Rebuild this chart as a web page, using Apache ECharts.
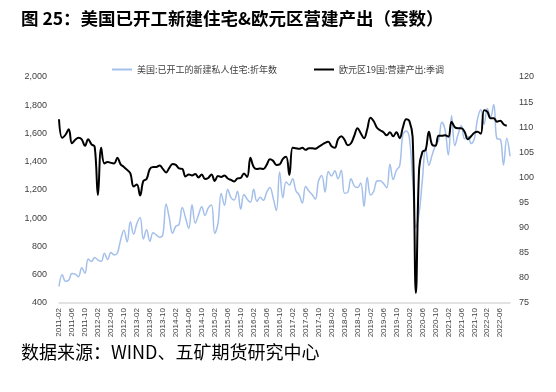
<!DOCTYPE html>
<html>
<head>
<meta charset="utf-8">
<script src="https://cdn.jsdelivr.net/npm/echarts@6/dist/echarts.min.js"></script>
<style>html,body{margin:0;padding:0;background:#fff;}#c{width:556px;height:392px;}</style>
</head>
<body>
<div id="c"></div>
<script>
// ---- data ----
const titleText = '图 25：美国已开工新建住宅&欧元区营建产出（套数）';
const sourceText = '数据来源：WIND、五矿期货研究中心';
const seriesNames = ['美国:已开工的新建私人住宅:折年数', '欧元区19国:营建产出:季调'];
// monthly categories 2011-02 .. 2022-09
const startYear = 2011, startMonth = 2, monthCount = 140;
const categories = [];
for (let k = 0; k < monthCount; k++) {
  const m = startMonth - 1 + k;
  const y = startYear + Math.floor(m / 12);
  const mm = (m % 12) + 1;
  categories.push(y + '-' + (mm < 10 ? '0' + mm : '' + mm));
}
// US housing starts, SAAR (thousand units), 2011-02 .. 2022-09
const usStarts = [
  517, 600, 554, 561, 608, 604, 586, 650, 610, 711, 694,
  723, 704, 695, 753, 708, 757, 740, 754, 847, 915, 833, 976,
  888, 962, 1005, 853, 919, 837, 897, 882, 866, 883, 1101, 1002,
  893, 943, 956, 1076, 1003, 928, 1096, 965, 1025, 1081, 1020, 1073,
  1094, 893, 964, 1176, 1092, 1205, 1146, 1130, 1192, 1065, 1168, 1135,
  1114, 1206, 1120, 1148, 1128, 1183, 1218, 1144, 1054, 1328, 1145, 1257,
  1236, 1280, 1195, 1166, 1108, 1225, 1193, 1168, 1135, 1265, 1303, 1185,
  1331, 1299, 1336, 1280, 1339, 1177, 1184, 1280, 1229, 1217, 1250, 1083,
  1289, 1164, 1191, 1264, 1266, 1246, 1215, 1383, 1274, 1340, 1371, 1593,
  1617, 1567, 1269, 934, 1038, 1273, 1497, 1376, 1448, 1514, 1552, 1680,
  1625, 1447, 1725, 1514, 1594, 1657, 1562, 1580, 1530, 1563, 1703, 1768,
  1666, 1777, 1716, 1805, 1562, 1559, 1377, 1566, 1439
];
// Euro area 19 construction output, SA index, 2011-02 .. 2022-08
const euConstruction = [
  111.6, 107.9, 108.5, 109.6, 106.8, 107.5, 107.9, 107.6, 106.3, 107.6, 106.6,
  106.1, 96.5, 105.9, 102.8, 103.1, 102.9, 102.8, 103.9, 102.6, 102.1, 101.5, 100.8,
  98.2, 98.6, 96.4, 99.3, 99.7, 101.7, 102.1, 102.1, 102.4, 101.7, 101.0, 101.9,
  102.7, 102.5, 101.8, 101.7, 100.2, 100.6, 100.4, 100.7, 100.0, 100.6, 99.7, 99.9,
  100.6, 99.3, 100.3, 100.1, 100.4, 99.8, 99.5, 99.2, 99.8, 99.9, 100.8, 100.1,
  103.9, 102.1, 101.7, 101.8, 101.7, 102.5, 103.6, 103.3, 102.5, 102.6, 103.7, 104.1,
  100.5, 105.9, 105.8, 105.7, 105.9, 105.5, 105.8, 105.8, 105.7, 106.1, 106.5, 106.9,
  107.1, 106.2, 105.9, 107.6, 108.2, 107.5, 106.4, 106.8, 108.3, 109.8, 108.8, 107.8,
  109.6, 111.9, 111.2, 109.9, 109.4, 109.0, 108.4, 109.0, 108.2, 109.0, 107.8, 110.0,
  111.6, 111.2, 108.0, 77.0, 101.8, 105.1, 105.5, 109.1, 106.5, 106.3, 108.3, 108.3,
  108.4, 108.1, 111.1, 110.0, 109.8, 109.8, 109.1, 107.6, 108.2, 108.9, 109.1, 108.7,
  113.4, 113.1, 111.8, 111.8, 111.1, 111.3, 110.6, 110.3
];
const leftAxis = { min: 400, max: 2000, interval: 200 };
const rightAxis = { min: 75, max: 120, interval: 5 };

// ---- chart ----
const chart = echarts.init(document.getElementById('c'), null, { renderer: 'canvas' });
const axisFont = 'Liberation Sans, Arial, sans-serif';
chart.setOption({
  animation: false,
  backgroundColor: '#fff',
  title: [
    { text: titleText, left: 16, top: 5,
      textStyle: { fontSize: 17.5, fontWeight: 'bold', color: '#000', fontFamily: 'Noto Sans CJK SC' } },
    { text: sourceText, left: 16, top: 338,
      textStyle: { fontSize: 18, fontWeight: 'normal', color: '#000', fontFamily: 'Noto Sans CJK SC' } }
  ],
  legend: {
    top: 60, left: 'center', itemGap: 37, itemWidth: 20, itemHeight: 2, icon: 'rect',
    textStyle: { fontSize: 9, color: '#404040', fontFamily: 'Noto Sans CJK SC' },
    data: seriesNames
  },
  grid: { left: 59, right: 46, top: 77, bottom: 89 },
  xAxis: {
    type: 'category', data: categories, boundaryGap: false,
    axisLine: { lineStyle: { color: '#d9d9d9', width: 1.5 } },
    axisTick: { show: false },
    axisLabel: { interval: 3, rotate: 90, fontSize: 8, color: '#404040', margin: 5, fontFamily: axisFont }
  },
  yAxis: [
    { type: 'value', position: 'left', min: leftAxis.min, max: leftAxis.max, interval: leftAxis.interval,
      axisLine: { show: false }, axisTick: { show: false }, splitLine: { show: false },
      axisLabel: { fontSize: 9, color: '#404040', margin: 12, fontFamily: axisFont,
        formatter: v => v >= 1000 ? Math.floor(v / 1000) + ',' + String(v % 1000).padStart(3, '0') : String(v) } },
    { type: 'value', position: 'right', min: rightAxis.min, max: rightAxis.max, interval: rightAxis.interval,
      axisLine: { show: false }, axisTick: { show: false }, splitLine: { show: false },
      axisLabel: { fontSize: 9, color: '#404040', margin: 9, fontFamily: axisFont } }
  ],
  series: [
    { name: seriesNames[0], type: 'line', yAxisIndex: 0, data: usStarts, symbol: 'none', smooth: 0.4,
      lineStyle: { color: '#a4c0ea', width: 1.5 }, itemStyle: { color: '#a4c0ea' } },
    { name: seriesNames[1], type: 'line', yAxisIndex: 1, data: euConstruction, symbol: 'none', smooth: 0.4,
      lineStyle: { color: '#000', width: 2 }, itemStyle: { color: '#000' } }
  ]
});
</script>
</body>
</html>
